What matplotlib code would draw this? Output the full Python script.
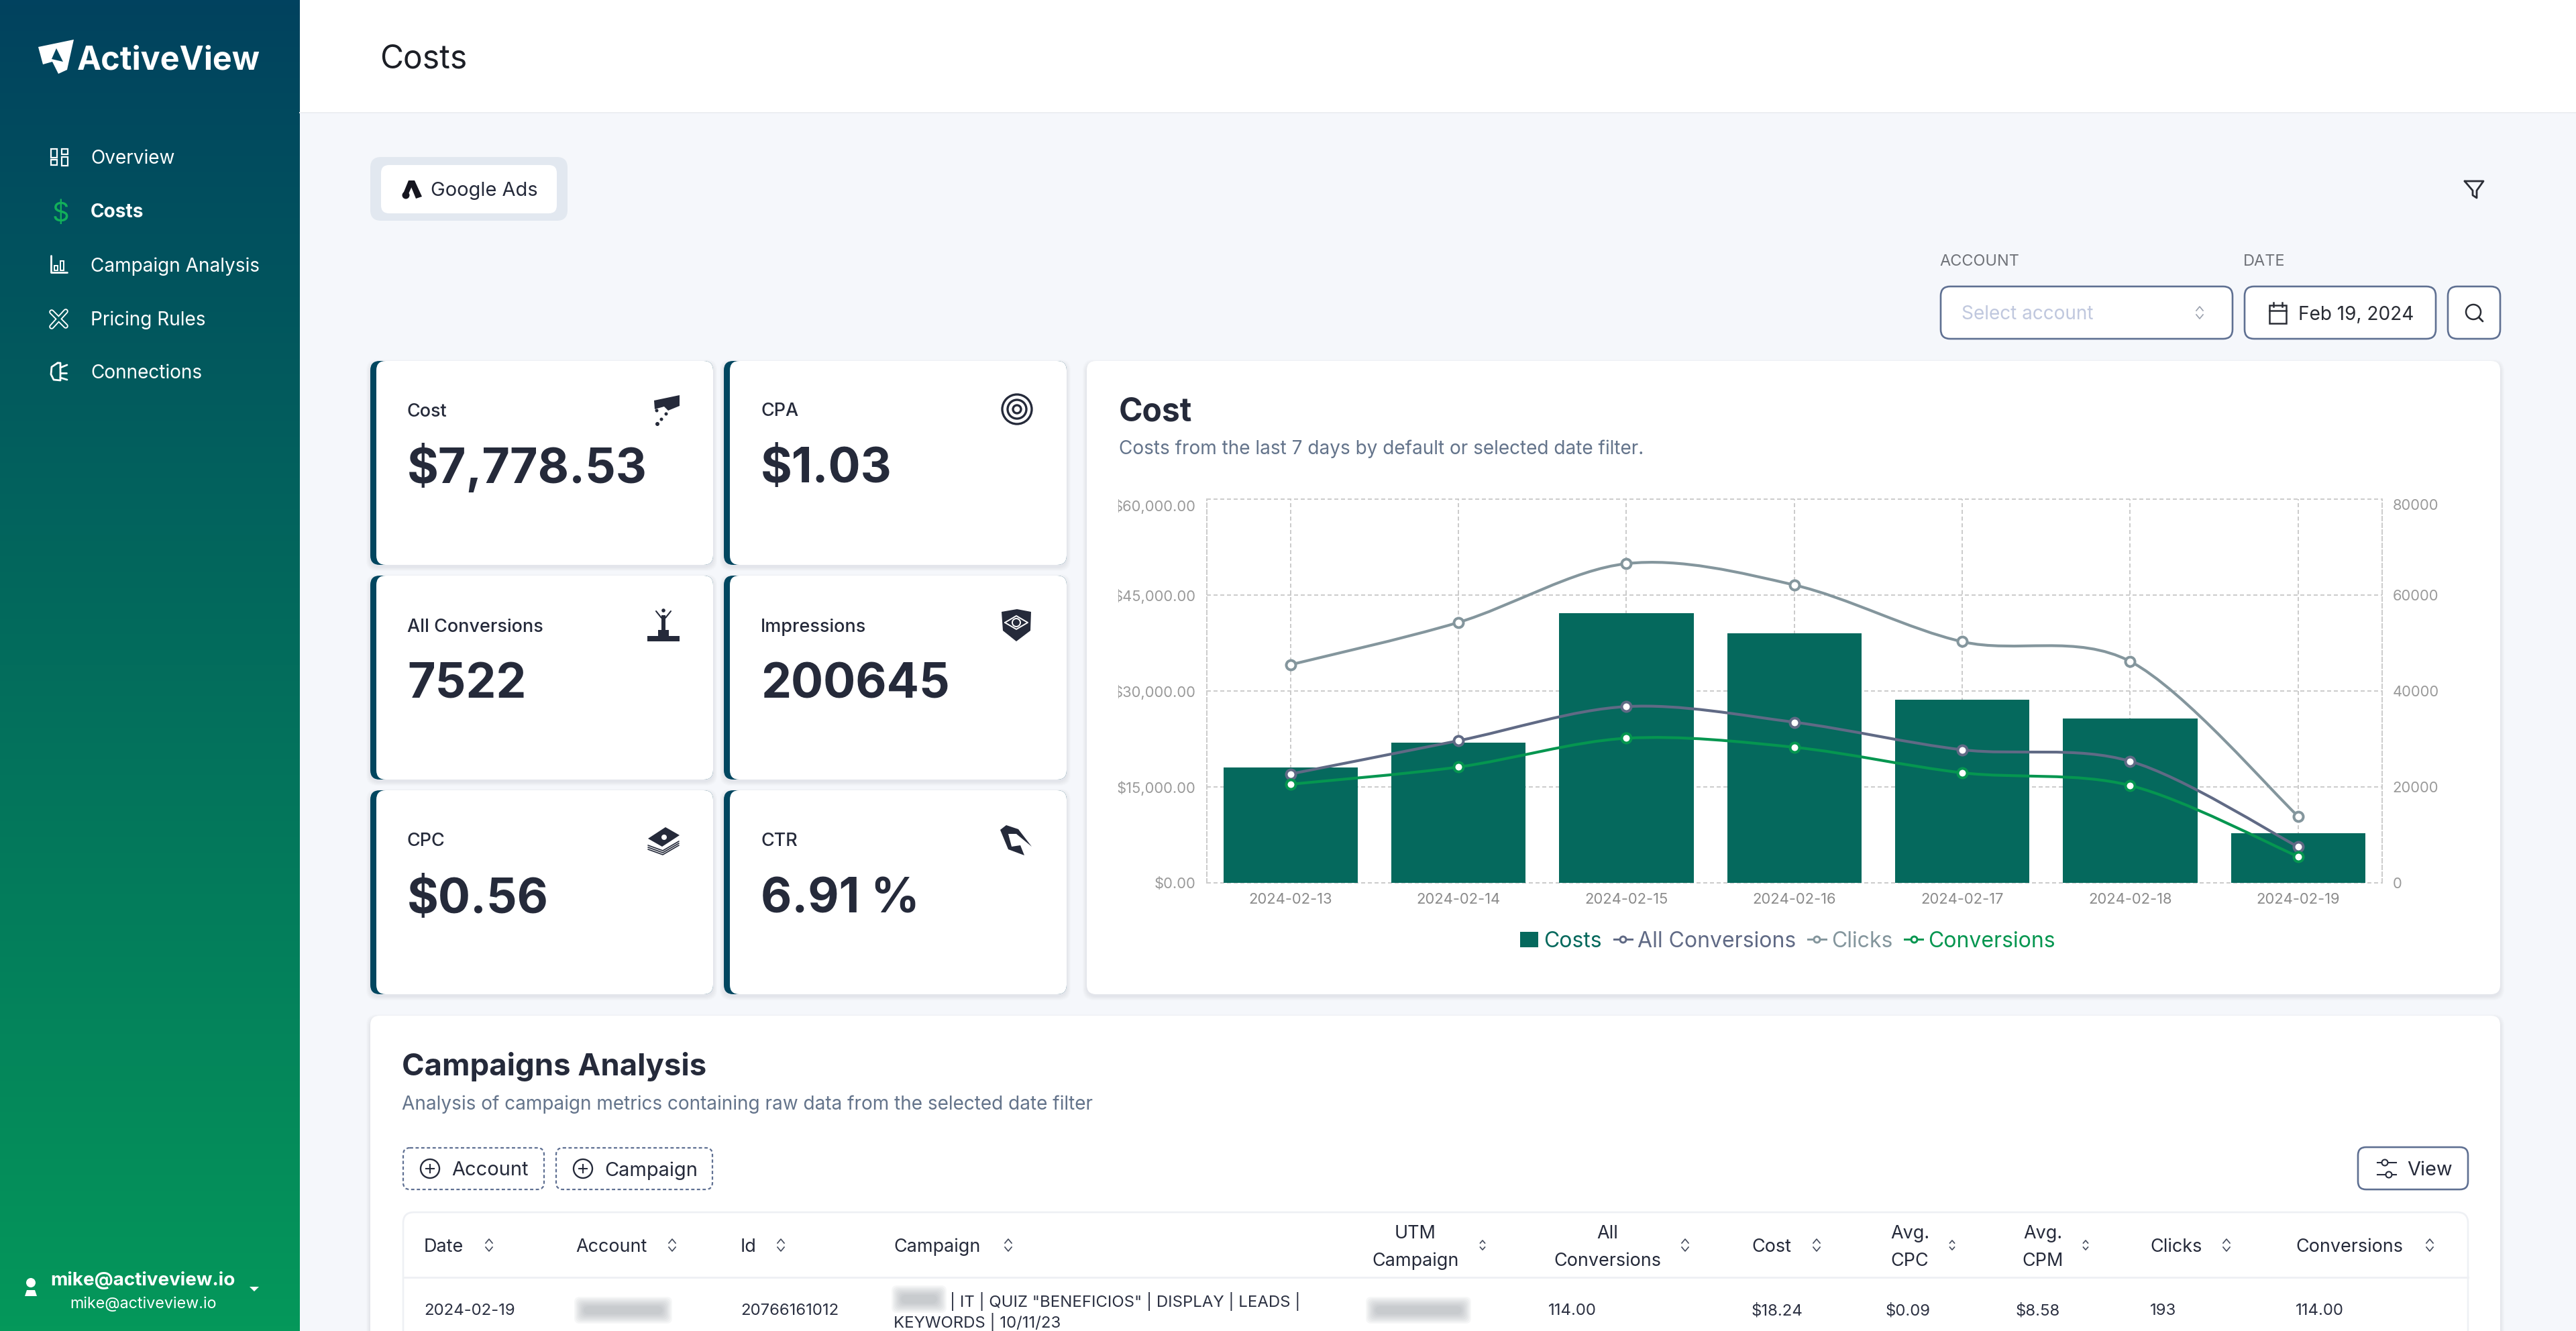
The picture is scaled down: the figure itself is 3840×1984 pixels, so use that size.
import numpy as np
import matplotlib
matplotlib.use('Agg')
import matplotlib.pyplot as plt
from matplotlib.colors import LinearSegmentedColormap
from matplotlib.lines import Line2D
from matplotlib.patches import Circle, FancyBboxPatch, PathPatch, Patch, Polygon, Rectangle
from matplotlib.path import Path
from matplotlib.transforms import Bbox

plt.rcParams['font.family'] = ['Inter', 'DejaVu Sans']

# chart data
dates = ['2024-02-13', '2024-02-14', '2024-02-15', '2024-02-16', '2024-02-17', '2024-02-18', '2024-02-19']
costs = [18050, 21900, 42140, 38990, 28590, 25700, 7778.53]
all_conversions = [22700, 29640, 36750, 33490, 27750, 25350, 7522]
clicks = [45480, 54300, 66550, 62100, 50280, 46170, 13880]
conversions = [20560, 24150, 30150, 28270, 22950, 20300, 5480]
cost_ticks = [0, 15000, 30000, 45000, 60000]
count_ticks = [0, 20000, 40000, 60000, 80000]

# page text
nav_items = ['Overview', 'Costs', 'Campaign Analysis', 'Pricing Rules', 'Connections']
card_labels = ['Cost', 'CPA', 'All Conversions', 'Impressions', 'CPC', 'CTR']
card_values = ['$7,778.53', '$1.03', '7522', '200645', '$0.56', '6.91 %']
table_row = ['2024-02-19', '20766161012', '114.00', '$18.24', '$0.09', '$8.58', '193', '114.00']

INK = '#252a3a'
SLATE = '#64748b'
BORDER = '#5f7092'
TEAL = '#05695d'
C_ALL = '#606a85'
C_CLICKS = '#84969d'
C_CONV = '#059650'


def fs(px):
    return px * 0.72


def label(x, y, s, px, color=INK, weight='normal', ha='left', **kw):
    # Inter has a small side bearing, pull left aligned text back a little
    if ha == 'left':
        x -= 2
    return ui.text(x, y, s, fontsize=fs(px), color=color, fontweight=weight, ha=ha, va='center_baseline', **kw)


def box(x0, y0, x1, y1, r=12, fc='white', ec='none', lw=0, ls='-', z=2, alpha=None):
    p = FancyBboxPatch((x0 + r, y0 + r), x1 - x0 - 2 * r, y1 - y0 - 2 * r, boxstyle=f'round,pad={r}',
                       fc=fc, ec=ec, lw=lw, ls=ls, zorder=z, alpha=alpha)
    ui.add_patch(p)
    return p


def shadow(x0, y0, x1, y1, r=16):
    for i in range(6):
        box(x0 - 6 + i, y0 - 2 + i, x1 + 6 - i, y1 + 9 - i, r=r, fc='#1e2a46', z=1, alpha=0.01)


def blur_box(x0, y0, x1, y1):
    for i in range(8):
        box(x0 - 9 + i * 2, y0 - 9 + i * 2, x1 + 9 - i * 2, y1 + 9 - i * 2, r=8, fc='#8a8f99', z=3, alpha=0.07)


def sort_icon(x, y, h=9, w=5, color='#444b5c'):
    ui.plot([x - w, x, x + w], [y - 3, y - h, y - 3], color=color, lw=1.2, zorder=4)
    ui.plot([x - w, x, x + w], [y + 3, y + h, y + 3], color=color, lw=1.2, zorder=4)


def outline(pts, color='white', lw=2, z=4, closed=False):
    pts = np.array(pts)
    if closed:
        pts = np.vstack([pts, pts[:1]])
    ui.plot(pts[:, 0], pts[:, 1], color=color, lw=lw, zorder=z, solid_capstyle='round', solid_joinstyle='round')


def ring(x, y, r, color=INK, lw=2.0, fc='none', z=4):
    ui.add_patch(Circle((x, y), r, fc=fc, ec=color, lw=lw, zorder=z))


def smooth_path(xs, ys, t=0.16):
    # cubic bezier through the points, in the axis' own data units
    xs = np.array(xs, dtype=float)
    ys = np.array(ys, dtype=float)
    verts = [(xs[0], ys[0])]
    codes = [Path.MOVETO]
    n = len(xs)
    for i in range(n - 1):
        p, q = max(i - 1, 0), min(i + 2, n - 1)
        verts.append((xs[i] + (xs[i + 1] - xs[p]) * t, ys[i] + (ys[i + 1] - ys[p]) * t))
        verts.append((xs[i + 1] - (xs[q] - xs[i]) * t, ys[i + 1] - (ys[q] - ys[i]) * t))
        verts.append((xs[i + 1], ys[i + 1]))
        codes += [Path.CURVE4] * 3
    return Path(verts, codes)


fig = plt.figure(figsize=(38.4, 19.84), dpi=100, facecolor='#f5f7fb')
ui = fig.add_axes([0, 0, 1, 1])
ui.axis('off')

# sidebar
cmap = LinearSegmentedColormap.from_list('side', ['#01425f', '#05985a'])
ui.imshow(np.linspace(0, 1, 256).reshape(-1, 1), cmap=cmap, extent=(0, 447, 1984, 0), aspect='auto', zorder=1)
ui.set_xlim(0, 3840)
ui.set_ylim(1984, 0)

ui.add_patch(Polygon([(57, 70), (110, 59), (100, 104), (87, 110), (78, 92), (64, 96)], fc='white', zorder=3))
ui.add_patch(Polygon([(84, 72), (94, 92), (77, 88)], fc='#01465f', zorder=4))
label(117, 86, 'ActiveView', 48.5, color='white', weight='bold')

nav_y = [234, 314, 394, 474, 554]
for name, y in zip(nav_items, nav_y):
    active = name == 'Costs'
    label(137, y, name, 28, color='white', weight='bold' if active else 'normal')

# nav icons
for bx, by, bw, bh in [(76, 222, 9, 13), (92, 222, 9, 8), (76, 238, 9, 8), (92, 234, 9, 13)]:
    ui.add_patch(Rectangle((bx, by), bw, bh, fc='none', ec='white', lw=1.6, zorder=4))
label(90, 315, '$', 40, color='#12b05a', ha='center')
outline([(76, 381), (76, 406), (100, 406)])
for bx, by, bh in [(81, 396, 7), (90, 389, 14)]:
    ui.add_patch(Rectangle((bx, by), 5, bh, fc='none', ec='white', lw=1.4, zorder=4))
outline([(77, 465), (98, 486)], lw=5.5)
outline([(98, 464), (77, 487)], lw=5.5)
outline([(77, 465), (98, 486)], color='#035a5e', lw=2.8, z=5)
outline([(98, 464), (77, 487)], color='#035a5e', lw=2.8, z=5)
outline([(86, 541), (77, 547), (76, 558), (80, 566), (90, 567), (90, 541), (86, 541)])
outline([(90, 548), (100, 544)])
outline([(90, 556), (99, 556)])
outline([(90, 563), (100, 566)])

ui.add_patch(Circle((46, 1912), 7, fc='white', zorder=4))
ui.add_patch(Polygon([(37, 1932), (40, 1923), (52, 1923), (55, 1932)], fc='white', zorder=4))
label(213, 1905, 'mike@activeview.io', 27.8, color='white', weight='bold', ha='center')
label(213, 1941, 'mike@activeview.io', 23.3, color='white', ha='center')
ui.add_patch(Polygon([(372, 1918), (386, 1918), (379, 1925)], fc='white', zorder=4))

# header
ui.add_patch(Rectangle((447, 0), 3393, 168, fc='white', ec='none', zorder=1))
ui.plot([447, 3840], [168, 168], color='#eceef2', lw=1.4, zorder=2)
label(568, 84, 'Costs', 48, color='#1c1f26')

# tab
box(552, 234, 846, 329, r=16, fc='#e2e8f0')
box(568, 246, 830, 318, r=12, z=3)
ui.add_patch(Polygon([(609, 269), (618, 269), (629, 293), (620, 296)], fc='#15151f', zorder=4))
ui.add_patch(Polygon([(609, 269), (618, 269), (608, 291), (600, 291)], fc='#15151f', zorder=4))
ui.add_patch(Circle((605, 291), 5.5, fc='#15151f', zorder=4))
label(644, 282, 'Google Ads', 29)

# filters
outline([(3674, 270), (3702, 270), (3692, 284), (3692, 295), (3686, 291), (3686, 284)], color='#2a2d35', closed=True)
label(2893, 388, 'ACCOUNT', 23.5, color='#6f7278')
label(3346, 388, 'DATE', 23.5, color='#6f7278')
box(2893, 427, 3328, 505, r=14, ec=BORDER, lw=1.9)
box(3346, 427, 3631, 505, r=14, ec=BORDER, lw=1.9)
box(3649, 427, 3727, 505, r=14, ec=BORDER, lw=1.9)
label(2926, 466, 'Select account', 28, color='#c0c8de')
sort_icon(3279, 466, color='#9aa0ad')
ui.add_patch(Rectangle((3383, 455), 25, 27, fc='none', ec='#2a2d35', lw=1.8, zorder=4))
ui.plot([3383, 3408], [463, 463], color='#2a2d35', lw=1.8, zorder=4)
ui.plot([3389, 3389], [451, 457], color='#2a2d35', lw=1.8, zorder=4)
ui.plot([3402, 3402], [451, 457], color='#2a2d35', lw=1.8, zorder=4)
label(3428, 466, 'Feb 19, 2024', 28, color='#2a2d35')
ring(3687, 465, 11, color='#2a2d35', lw=1.8)
outline([(3695, 473), (3701, 479)], color='#2a2d35')

# stat cards
card_x = [552, 1079]
card_y = [538, 858, 1178]
label_y = [611, 610, 932, 932, 1251, 1251]
value_y = [691, 692, 1014, 1014, 1334, 1334]
for i in range(6):
    x0 = card_x[i % 2]
    x1 = x0 + 511
    y0 = card_y[i // 2]
    y1 = y0 + 304
    shadow(x0, y0, x1, y1)
    box(x0, y0, x1, y1, r=14, fc='#01465f', z=2)
    box(x0 + 9, y0, x1, y1, r=14, z=2.5)
    label(x0 + 57, label_y[i], card_labels[i], 27, weight='medium')
    label(x0 + 57, value_y[i], card_values[i], 71.5, weight='bold')

# card icons
ui.add_patch(Polygon([(975, 597), (1013, 589), (1013, 605), (996, 612), (990, 606), (976, 610)], fc=INK, zorder=4))
for cx, cy, r in [(979, 612, 2.5), (993, 617, 2.5), (986, 625, 2.5), (980, 632, 3)]:
    ui.add_patch(Circle((cx, cy), r, fc=INK, zorder=4))
ring(1516, 610, 22, lw=2.4)
ring(1516, 610, 14, lw=2.4)
ring(1516, 610, 6, lw=2.4)
ui.add_patch(Rectangle((965, 948), 48, 8, fc=INK, zorder=4))
ui.add_patch(Rectangle((981, 939), 16, 10, fc=INK, zorder=4))
ui.add_patch(Circle((989, 910), 2.8, fc=INK, zorder=4))
outline([(978, 911), (986, 921), (992, 921), (1000, 911)], color=INK, lw=1.5)
ui.add_patch(Rectangle((986, 917), 6, 22, fc=INK, zorder=4))
ui.add_patch(Polygon([(1493, 912), (1516, 908), (1537, 912), (1536, 940), (1515, 956), (1495, 940)], fc=INK, zorder=4))
ring(1515, 928, 6, color='white', lw=1.4, z=5)
outline([(1498, 928), (1515, 918), (1532, 928), (1515, 938)], color='white', lw=1.4, z=5, closed=True)
for k in range(3):
    outline([(966, 1260 - k * 3 + 6), (988, 1274 - k * 3), (1012, 1260 - k * 3)], color=INK, lw=1.2)
ui.add_patch(Polygon([(966, 1250), (992, 1233), (1013, 1245), (987, 1262)], fc=INK, zorder=4))
ui.add_patch(Circle((990, 1248), 4, fc='white', zorder=5))
ui.add_patch(Polygon([(1491, 1237), (1500, 1230), (1518, 1236), (1538, 1262), (1515, 1243), (1503, 1243), (1508, 1262),
                      (1521, 1260), (1527, 1275), (1503, 1266)], fc=INK, zorder=4))

# cost panel
shadow(1620, 538, 3727, 1482)
box(1620, 538, 3727, 1482, r=14, z=2)
label(1670, 609, 'Cost', 48, weight='bold')
label(1670, 666, 'Costs from the last 7 days by default or selected date filter.', 28, color=SLATE)

ax = fig.add_axes([1798.5 / 3840, 1 - 1316 / 1984, (3551 - 1798.5) / 3840, (1316 - 744) / 1984], facecolor='none', zorder=2)
ax2 = ax.twinx()
ax2.set_zorder(3)
xs = np.arange(len(dates))
ax.bar(xs, costs, width=0.8, color=TEAL, zorder=2)
ax.set_xlim(-0.5, 6.5)
ax.set_ylim(0, 60000)
ax2.set_ylim(0, 80000)
ax.set_xticks(xs)
ax.set_xticklabels(dates)
ax.set_yticks(cost_ticks)
ax.set_yticklabels([f'${v:,.2f}' for v in cost_ticks])
ax2.set_yticks(count_ticks)
ax2.set_yticklabels([str(v) for v in count_ticks])
ax.grid(True, color='#cccccc', lw=1.44, ls=(0, (3, 2)), clip_on=False, zorder=1)
ax.set_axisbelow(True)
ax.tick_params(axis='x', length=0, pad=11, labelsize=fs(22), labelcolor='#8a8a8a')
ax.tick_params(axis='y', length=0, pad=11.5, labelsize=fs(22), labelcolor='#9a9a9a')
ax2.tick_params(axis='y', length=0, pad=11, labelsize=fs(22), labelcolor='#9a9a9a')
for spine in ['top', 'bottom']:
    ax.spines[spine].set_visible(False)
    ax2.spines[spine].set_visible(False)
ax.spines['right'].set_visible(False)
ax2.spines['left'].set_visible(False)
for sp in [ax.spines['left'], ax2.spines['right']]:
    sp.set_color('#cccccc')
    sp.set_linewidth(1.44)
    sp.set_linestyle((0, (3, 2)))
ax.get_yticklabels()[-1].set_va('top')
ax2.get_yticklabels()[-1].set_va('top')
for lbl in ax.get_yticklabels():
    lbl.set_clip_on(True)
    lbl.set_clip_box(Bbox.from_extents(1667, 0, 1800, 1984))

for vals, color in [(clicks, C_CLICKS), (all_conversions, C_ALL), (conversions, C_CONV)]:
    ax2.add_patch(PathPatch(smooth_path(xs, vals), fc='none', ec=color, lw=3.0, zorder=3))
    ax2.plot(xs, vals, ls='none', marker='o', ms=fs(14), mfc='white', mec=color, mew=fs(4), zorder=4)


def legend_line(color):
    return Line2D([], [], color=color, lw=fs(3), marker='o', ms=fs(9), mfc='white', mec=color, mew=fs(3))


handles = [Patch(fc=TEAL), legend_line(C_ALL), legend_line(C_CLICKS), legend_line(C_CONV)]
names = ['Costs', 'All Conversions', 'Clicks', 'Conversions']
leg = ax2.legend(handles, names, loc='center', bbox_to_anchor=(2665, 1403), bbox_transform=ui.transData, ncols=4,
                 frameon=False, fontsize=fs(32), handlelength=0.85, handleheight=0.7, handletextpad=0.25,
                 columnspacing=0.55, borderpad=0, labelcolor=[TEAL, C_ALL, C_CLICKS, C_CONV])

# campaigns panel
shadow(552, 1514, 3727, 2010)
box(552, 1514, 3727, 2010, r=14, z=2)
label(601, 1585, 'Campaigns Analysis', 45.5, weight='bold')
label(601, 1643, 'Analysis of campaign metrics containing raw data from the selected date filter', 28, color=SLATE)

for x0, x1, name, ix, tx in [(601, 811, 'Account', 641, 675), (829, 1062, 'Campaign', 869, 903)]:
    box(x0, 1711, x1, 1773, r=10, ec=BORDER, lw=1.6, ls=(0, (2.2, 1.6)), z=3)
    ring(ix, 1742, 14, lw=1.7)
    ui.plot([ix - 6, ix + 6], [1742, 1742], color=INK, lw=1.5, zorder=4)
    ui.plot([ix, ix], [1736, 1748], color=INK, lw=1.5, zorder=4)
    label(tx, 1742, name, 29)

box(3515, 1710, 3679, 1773, r=12, ec=BORDER, lw=1.9, z=3)
label(3590, 1742, 'View', 29)
ui.plot([3544, 3572], [1733, 1733], color=INK, lw=1.5, zorder=4)
ui.plot([3544, 3572], [1751, 1751], color=INK, lw=1.5, zorder=4)
ring(3555, 1733, 4.5, lw=1.5, fc='white', z=5)
ring(3561, 1751, 4.5, lw=1.5, fc='white', z=5)

# table
box(601, 1807, 3679, 2030, r=16, ec='#eef0f4', lw=1.9, z=2.5)
ui.plot([601, 3679], [1904, 1904], color='#eef0f4', lw=2.0, zorder=3)

for name, x, sx in [('Date', 634, 729), ('Account', 860, 1002), ('Id', 1106, 1164), ('Campaign', 1334, 1503),
                    ('Cost', 2613, 2708), ('Clicks', 3207, 3319), ('Conversions', 3424, 3622)]:
    label(x, 1856, name, 27)
    sort_icon(sx, 1856)
for first, second, x, sx, small in [('UTM', 'Campaign', 2110, 2210, True), ('All', 'Conversions', 2396, 2512, False),
                                    ('Avg.', 'CPC', 2847, 2910, True), ('Avg.', 'CPM', 3045, 3109, True)]:
    label(x, 1836, first, 27, ha='center')
    label(x, 1877, second, 27, ha='center')
    sort_icon(sx, 1856, h=7 if small else 9, w=3.5 if small else 5)

row_x = [634, 1106, 2310, 2613, 2812, 3007, 3207, 3424]
for s, x in zip(table_row, row_x):
    label(x, 1952, s, 24, color='#2c3142')
label(1418, 1937, '| IT | QUIZ "BENEFICIOS" | DISPLAY | LEADS |', 24, color='#2c3142')
label(1334, 1968, 'KEYWORDS | 10/11/23', 24, color='#2c3142')
blur_box(865, 1942, 993, 1964)
blur_box(1338, 1925, 1402, 1948)
blur_box(2045, 1942, 2184, 1964)

fig.savefig('out.png', dpi=100, facecolor=fig.get_facecolor())
